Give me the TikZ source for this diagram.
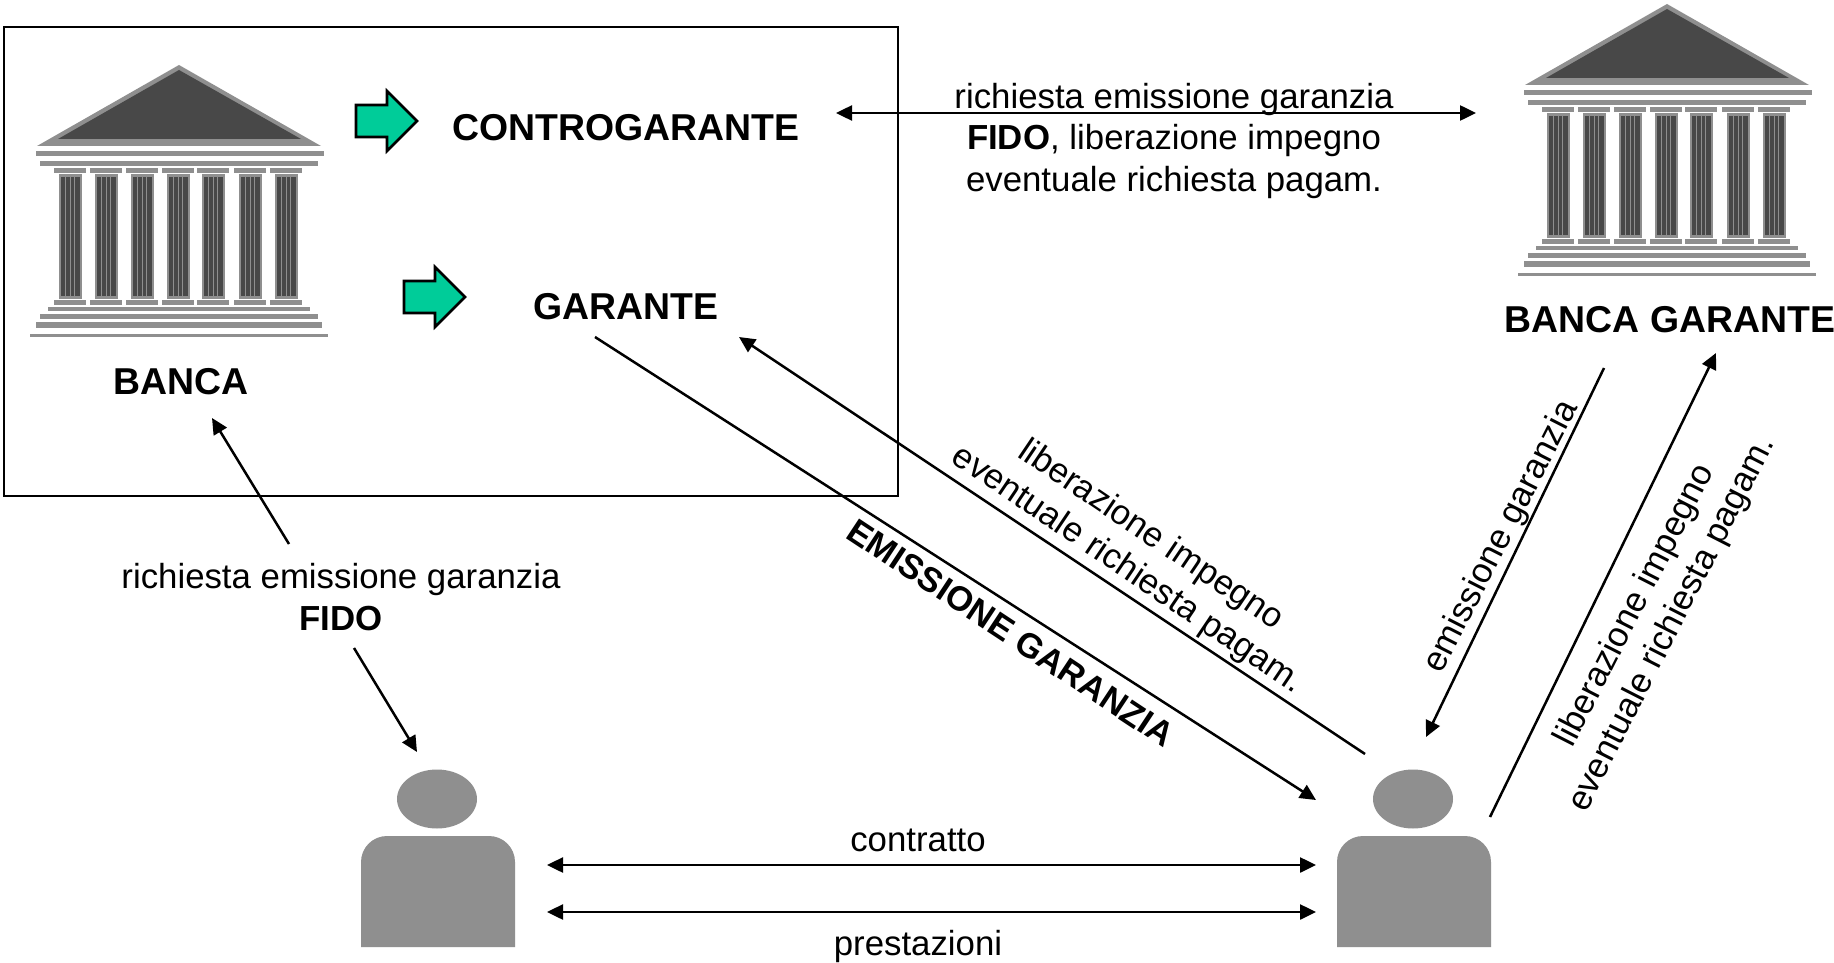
\documentclass[tikz,border=0pt]{standalone}
\usepackage{fontspec}
\setmainfont{Liberation Sans}
\usetikzlibrary{arrows.meta}
\definecolor{bgrey}{HTML}{8F8F8F}
\definecolor{bdark}{HTML}{484848}
\definecolor{bgreen}{HTML}{00CC99}
\tikzset{x=1pt,y=-1pt,
 conn/.style={line width=2.5pt,-{Triangle[length=16pt,width=15pt]}},
 biconn/.style={line width=2.5pt,{Triangle[length=16pt,width=15pt]}-{Triangle[length=16pt,width=15pt]}},
 lab/.style={inner sep=0pt,font=\fontsize{34.8}{41.5}\selectfont,align=center},
 blab/.style={inner sep=0pt,font=\fontsize{37.4}{44}\selectfont\bfseries,align=center},
 greenarrow/.style={fill=bgreen,draw=black,line width=2.6pt,miter limit=10}}
\newcommand{\bankdraw}[2]{%
\begin{scope}[shift={(#1,#2)}]
\fill[bgrey] (179,65)--(37,146)--(321,146)--cycle;
\fill[bdark] (179,70)--(58,139)--(301,139)--cycle;
\fill[bgrey] (36,151) rectangle (324,156);
\fill[bgrey] (40,161) rectangle (318,166);
\foreach \a in {54,90,126,162,197,234,270}{
 \fill[bgrey] (\a,168.5) rectangle +(32,4.5);
 \fill[bgrey] (\a,300) rectangle +(32,5);
 \fill[bgrey] (\a+5,174) rectangle +(23,125);
 \fill[bdark] (\a+7,177) rectangle +(19,119);
 \foreach \s in {11.5,16,20.5}{\fill[bgrey] (\a+\s-0.4,177) rectangle +(0.8,119);}
}
\fill[bgrey] (48,307) rectangle (310,311);
\fill[bgrey] (40,314) rectangle (318,319);
\fill[bgrey] (36,322) rectangle (322,328);
\fill[bgrey] (30,334) rectangle (328,337);
\end{scope}}
\newcommand{\persondraw}[1]{%
\begin{scope}[xshift=#1]
\fill[bgrey] (437,799) ellipse [x radius=40,y radius=29.5];
\fill[bgrey] (361,947)--(361,862) arc[start angle=180,end angle=90,x radius=26,y radius=-26]--(489,836) arc[start angle=90,end angle=0,x radius=26,y radius=-26]--(515,947)--cycle;
\end{scope}}
\begin{document}
\begin{tikzpicture}
\useasboundingbox (0,0) rectangle (1834,963);
\fill[white] (0,0) rectangle (1834,963);
\draw[line width=2.6pt] (4,27) rectangle (898,496);
\bankdraw{0}{0}
\bankdraw{1488}{-61}
\persondraw{0pt}
\persondraw{976pt}
\draw[greenarrow] (356,105)--(387,105)--(387,91)--(417,121)--(387,151)--(387,137)--(356,137)--cycle;
\draw[greenarrow] (404,281)--(435,281)--(435,267)--(465,297)--(435,327)--(435,313)--(404,313)--cycle;
\node[blab] (banca) at (181,382) {BANCA};
\node[blab] (contro) at (626,128) {CONTROGARANTE};
\node[blab] (garante) at (626,307) {GARANTE};
\node[blab] (bancag) at (1670,320) {BANCA GARANTE};
\node[lab] (top) at (1174,141) {richiesta emissione garanzia\\\textbf{FIDO}, liberazione impegno\\eventuale richiesta pagam.};
\node[lab] (fido) at (341,597) {richiesta emissione garanzia\\\textbf{FIDO}};
\node[lab] (contr) at (918,840) {contratto};
\node[lab] (prest) at (918,946) {prestazioni};
\node[blab,rotate=-33.5,font=\fontsize{34.5}{40}\selectfont\bfseries] (em) at (1011,633) {EMISSIONE GARANZIA};
\node[lab,rotate=-34] (lib) at (1139,553) {liberazione impegno\\eventuale richiesta pagam.};
\node[lab,rotate=63] (emg) at (1502,537) {emissione garanzia};
\node[lab,rotate=63] (lib2) at (1654,615) {liberazione impegno\\eventuale richiesta pagam.};
\coordinate (a1) at (836,113); \coordinate (a2) at (1476,113);
\coordinate (b1) at (289,544); \coordinate (b2) at (212,418);
\coordinate (c1) at (354,648); \coordinate (c2) at (417,752);
\coordinate (d1) at (595,337); \coordinate (d2) at (1316,800);
\coordinate (e1) at (1365,754); \coordinate (e2) at (739,337);
\coordinate (f1) at (1604,368); \coordinate (f2) at (1426,737);
\coordinate (g1) at (1490,817); \coordinate (g2) at (1716,353);
\coordinate (h1) at (547,865); \coordinate (h2) at (1316,865);
\coordinate (i1) at (547,912); \coordinate (i2) at (1316,912);
\draw[biconn] (a1)--(a2);
\draw[conn] (b1)--(b2);
\draw[conn] (c1)--(c2);
\draw[conn] (d1)--(d2);
\draw[conn] (e1)--(e2);
\draw[conn] (f1)--(f2);
\draw[conn] (g1)--(g2);
\draw[biconn] (h1)--(h2);
\draw[biconn] (i1)--(i2);
\end{tikzpicture}
\end{document}
